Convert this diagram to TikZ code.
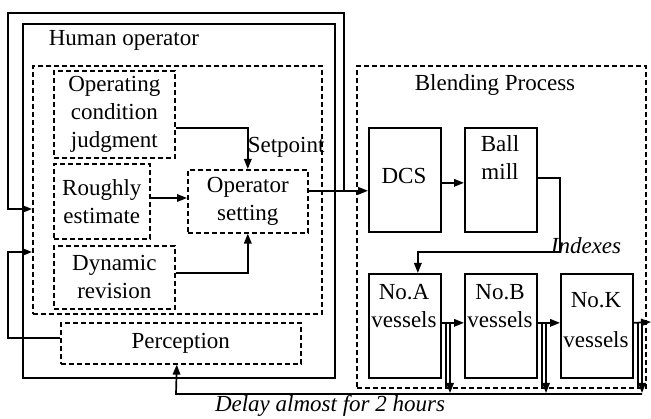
\documentclass[tikz,border=0pt]{standalone}
\usepackage{fontspec}
\setmainfont{Liberation Serif}
\usetikzlibrary{arrows.meta}
\begin{document}
\begin{tikzpicture}[x=1pt,y=-1pt,line width=1.7pt,
  txt/.style={font=\fontsize{23}{28}\selectfont, align=center, inner sep=0pt},
  sbox/.style={draw, line width=1.7pt, inner sep=0pt, anchor=north west},
  dbox/.style={draw, dash pattern=on 5pt off 3pt, line width=1.6pt, inner sep=0pt, anchor=north west, font=\fontsize{23}{28}\selectfont, align=center},
  arr/.style={-{Triangle[length=10pt,width=7.5pt]}, line width=1.7pt},
  ln/.style={line width=1.5pt}]
\useasboundingbox (0,0) rectangle (651,419);
% containers
\node[sbox, minimum width=312pt, minimum height=354pt] (ho) at (22,23) {};
\node[txt, anchor=west] (holab) at (48,40) {Human operator};
\node[dbox, minimum width=289pt, minimum height=248pt] (hbox) at (32,65) {};
\node[dbox, minimum width=289pt, minimum height=322pt] (bp) at (356,65) {};
\node[txt] (bplab) at (495,85) {Blending Process};
% human operator blocks
\node[dbox, minimum width=121pt, minimum height=87pt] (ocj) at (53,70) {Operating\\condition\\judgment};
\node[dbox, minimum width=96pt, minimum height=75pt] (re) at (53,163) {Roughly\\estimate};
\node[dbox, minimum width=121pt, minimum height=63pt] (dr) at (53,245) {Dynamic\\revision};
\node[dbox, minimum width=120pt, minimum height=63pt] (op) at (187,169) {Operator\\setting};
\node[dbox, minimum width=240pt, minimum height=41pt] (per) at (60,322) {Perception};
% process blocks
\node[sbox, minimum width=72pt, minimum height=104pt] (dcs) at (368,127) {};
\node[txt] (dcslab) at (404,176) {DCS};
\node[sbox, minimum width=72pt, minimum height=104pt] (bm) at (464,127) {};
\node[txt] (bmlab) at (500,158) {Ball\\mill};
\node[sbox, minimum width=72pt, minimum height=104pt] (va) at (368,273) {};
\node[txt] (valab) at (404,306) {No.A\\vessels};
\node[sbox, minimum width=72pt, minimum height=104pt] (vb) at (464,273) {};
\node[txt] (vblab) at (500,306) {No.B\\vessels};
\node[sbox, minimum width=72pt, minimum height=104pt] (vk) at (560,273) {};
\node[txt] (vklab) at (596,320) {No.K\\[12pt]vessels};
% labels
\node[txt, anchor=west] (sp) at (247,147) {Setpoint};
\node[txt, font=\fontsize{23}{28}\selectfont\itshape] (idx) at (586,246) {Indexes};
\node[txt, font=\fontsize{23}{28}\selectfont\itshape] (delay) at (330,406) {Delay almost for 2 hours};
% coordinates
\coordinate (j1) at (344,190);
\coordinate (t1) at (8,13);
\coordinate (e1) at (32,209);
\coordinate (x8) at (8,300);
\coordinate (e2) at (32,252);
\coordinate (i1) at (560,252);
\coordinate (out) at (651,322);
\coordinate (da) at (450,393);
\coordinate (db) at (546,393);
\coordinate (dk) at (642,393);
\coordinate (bl) at (642,394);
\coordinate (br) at (176,394);
% connectors in human operator
\draw[arr] ([yshift=-13.5pt]ocj.east) -| (op.north);
\draw[arr] (re.east |- 0,198) -- (op.west |- 0,198);
\draw[arr] ([yshift=4.5pt]dr.east) -| (op.south);
\draw[arr] ([yshift=10.5pt]op.east) -- ([yshift=10.5pt]op.east -| dcs.west);
% feedbacks
\draw[arr] (j1) |- (t1) |- (e1);
\draw[arr] ([yshift=5pt]per.west) -| (x8) |- (e2);
% process connectors
\draw[arr] ([yshift=-3pt]dcs.east) -- ([yshift=-3pt]dcs.east -| bm.west);
\draw[arr] ([yshift=2pt]bm.east) -| (i1) -| ([xshift=13pt]va.north);
\draw[arr] ([yshift=3pt]va.east) -- ([yshift=3pt]va.east -| vb.west);
\draw[arr] ([yshift=3pt]vb.east) -- ([yshift=3pt]vb.east -| vk.west);
\draw[arr] ([yshift=3pt]vk.east) -- (out);
% delay lines
\draw[ln] ([yshift=3pt]va.east -| 446,0) -- (446,388);
\draw[arr] ([yshift=3pt]va.east -| da) -- (da);
\draw[ln] ([yshift=3pt]vb.east -| 542,0) -- (542,388);
\draw[arr] ([yshift=3pt]vb.east -| db) -- (db);
\draw[ln] ([yshift=3pt]vk.east -| 638,0) -- (638,388);
\draw[arr] ([yshift=3pt]vk.east -| dk) -- (dk);
\draw[arr] (bl) -- (br) -- ([xshift=-4pt]per.south);
\end{tikzpicture}
\end{document}
